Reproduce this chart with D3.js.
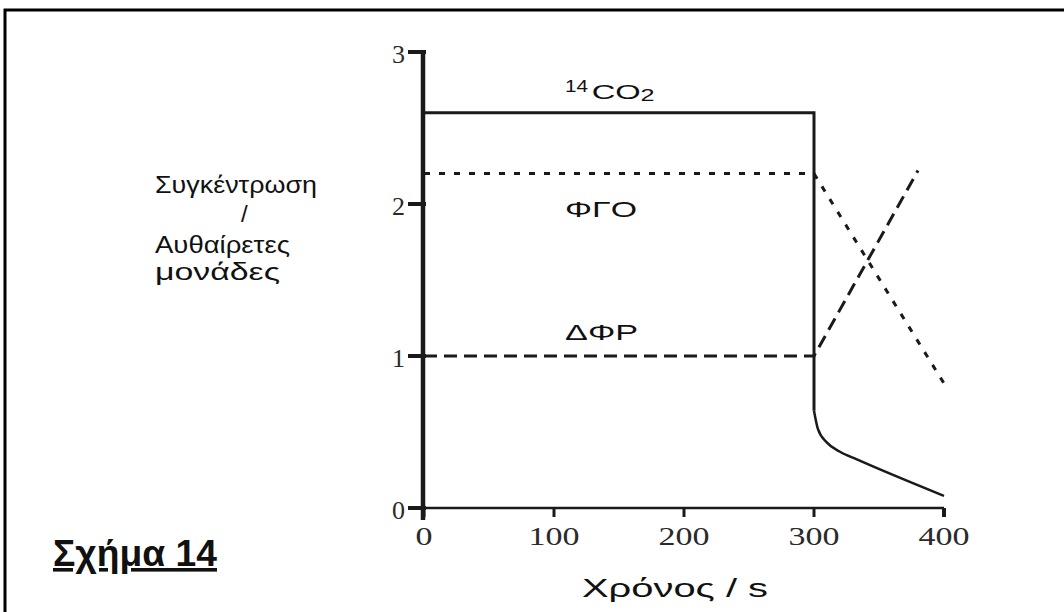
<!DOCTYPE html>
<html>
<head>
<meta charset="utf-8">
<title>Σχήμα 14</title>
<script src="https://cdn.jsdelivr.net/npm/d3@7"></script>
<style>
  body { margin: 0; background: #fff; }
  svg text { font-family: "Liberation Sans", Arial, sans-serif; fill: #111; }
  .tick-label { font-family: "Liberation Serif", "Times New Roman", serif !important; fill: #2a2a2a; }
  .narrow { font-family: "Liberation Sans Narrow", "Arial Narrow", "Liberation Sans", sans-serif !important; }
</style>
</head>
<body>
<div class="chart"></div>
<script>
// data
var xTicks = [0, 100, 200, 300, 400];
var yTicks = [0, 1, 2, 3];

var co2 = [[0, 2.6], [300, 2.6], [300, 0.64]];
var co2Tail = [[300, 0.64], [303, 0.52], [310, 0.43], [320, 0.37], [333, 0.32], [400, 0.08]];
var fgo = [[0, 2.2], [300, 2.2], [400, 0.82]];
var dfr = [[0, 1.0], [300, 1.0], [380, 2.22]];

var seriesLabels = [
  { name: "ΦΓΟ", x: 108.5, y: 1.97, w: 72 },
  { name: "ΔΦΡ", x: 108.5, y: 1.16, w: 73 }
];

var width = 1064, height = 612;

var svg = d3.select(".chart").append("svg")
  .attr("width", width)
  .attr("height", height);

// stretched text, the source figure is wider than the installed fonts
function label(txt, px, py, size, len) {
  var t = svg.append("text")
    .attr("x", px).attr("y", py)
    .style("font-size", size + "px")
    .text(txt);
  if (len) t.attr("textLength", len).attr("lengthAdjust", "spacingAndGlyphs");
  return t;
}

// frame around the figure
svg.append("path")
  .attr("d", "M5,612 L5,10 L1064,10")
  .attr("fill", "none")
  .attr("stroke", "#000")
  .attr("stroke-width", 3);

var x = d3.scaleLinear().domain([0, 400]).range([424, 944]);
var y = d3.scaleLinear().domain([0, 3]).range([508, 52]);

var line = d3.line()
  .x(function(d) { return x(d[0]); })
  .y(function(d) { return y(d[1]); });

var smooth = d3.line()
  .x(function(d) { return x(d[0]); })
  .y(function(d) { return y(d[1]); })
  .curve(d3.curveMonotoneX);

// x axis
svg.append("line")
  .attr("x1", x(0)).attr("x2", x(400))
  .attr("y1", y(0)).attr("y2", y(0))
  .attr("stroke", "#1a1a1a").attr("stroke-width", 2.5);

svg.selectAll(".xtick").data(xTicks).enter().append("line")
  .attr("class", "xtick")
  .attr("x1", function(d) { return x(d); }).attr("x2", function(d) { return x(d); })
  .attr("y1", y(0)).attr("y2", y(0) + 9)
  .attr("stroke", "#1a1a1a")
  .attr("stroke-width", function(d) { return d == 400 ? 4 : 3; });

svg.selectAll(".xlabel").data(xTicks).enter().append("text")
  .attr("class", "tick-label")
  .attr("x", function(d) { return x(d); })
  .attr("y", 545)
  .attr("text-anchor", "middle")
  .attr("textLength", function(d) { return String(d).length * 17; })
  .attr("lengthAdjust", "spacingAndGlyphs")
  .style("font-size", "26px")
  .text(function(d) { return d; });

// y axis
svg.append("line")
  .attr("x1", x(0) - 1).attr("x2", x(0) - 1)
  .attr("y1", y(3) - 2).attr("y2", y(0) + 12)
  .attr("stroke", "#1a1a1a").attr("stroke-width", 4.5);

svg.selectAll(".ytick").data(yTicks).enter().append("line")
  .attr("class", "ytick")
  .attr("x1", x(0) - 16).attr("x2", x(0) + 2)
  .attr("y1", function(d) { return y(d); }).attr("y2", function(d) { return y(d); })
  .attr("stroke", "#1a1a1a").attr("stroke-width", 4);

svg.selectAll(".ylabel").data(yTicks).enter().append("text")
  .attr("class", "tick-label")
  .attr("x", x(0) - 19)
  .attr("y", function(d) { return y(d) + 11; })
  .attr("text-anchor", "end")
  .style("font-size", "26px")
  .text(function(d) { return d; });

// curves
svg.append("path").attr("d", line(co2))
  .attr("fill", "none").attr("stroke", "#1a1a1a").attr("stroke-width", 3);
svg.append("path").attr("d", smooth(co2Tail))
  .attr("fill", "none").attr("stroke", "#1a1a1a").attr("stroke-width", 2.5);

svg.append("path").attr("d", line(fgo))
  .attr("fill", "none").attr("stroke", "#1a1a1a").attr("stroke-width", 3)
  .attr("stroke-dasharray", "6,9");

svg.append("path").attr("d", line(dfr))
  .attr("fill", "none").attr("stroke", "#1a1a1a").attr("stroke-width", 3)
  .attr("stroke-dasharray", "13,7");

// series labels
label("14", x(108.5), 92, 17, 23);
label("CO", x(129), 99, 21, 49);
label("2", x(166.5), 101, 17, 14);

seriesLabels.forEach(function(d) {
  label(d.name, x(d.x), y(d.y) + 8, 22, d.w);
});

// y title
label("Συγκέντρωση", 155, 193, 24, 162);
label("/", 241, 222, 24);
label("Αυθαίρετες", 155, 253, 24, 135);
label("μονάδες", 155, 280, 24, 125);

// x title
label("Χρόνος / s", 582, 597, 26, 186).attr("class", "narrow");

// figure caption
label("Σχήμα 14", 53, 566, 36, 164)
  .attr("class", "narrow")
  .style("font-weight", "bold")
  .style("text-decoration", "underline");
</script>
</body>
</html>
